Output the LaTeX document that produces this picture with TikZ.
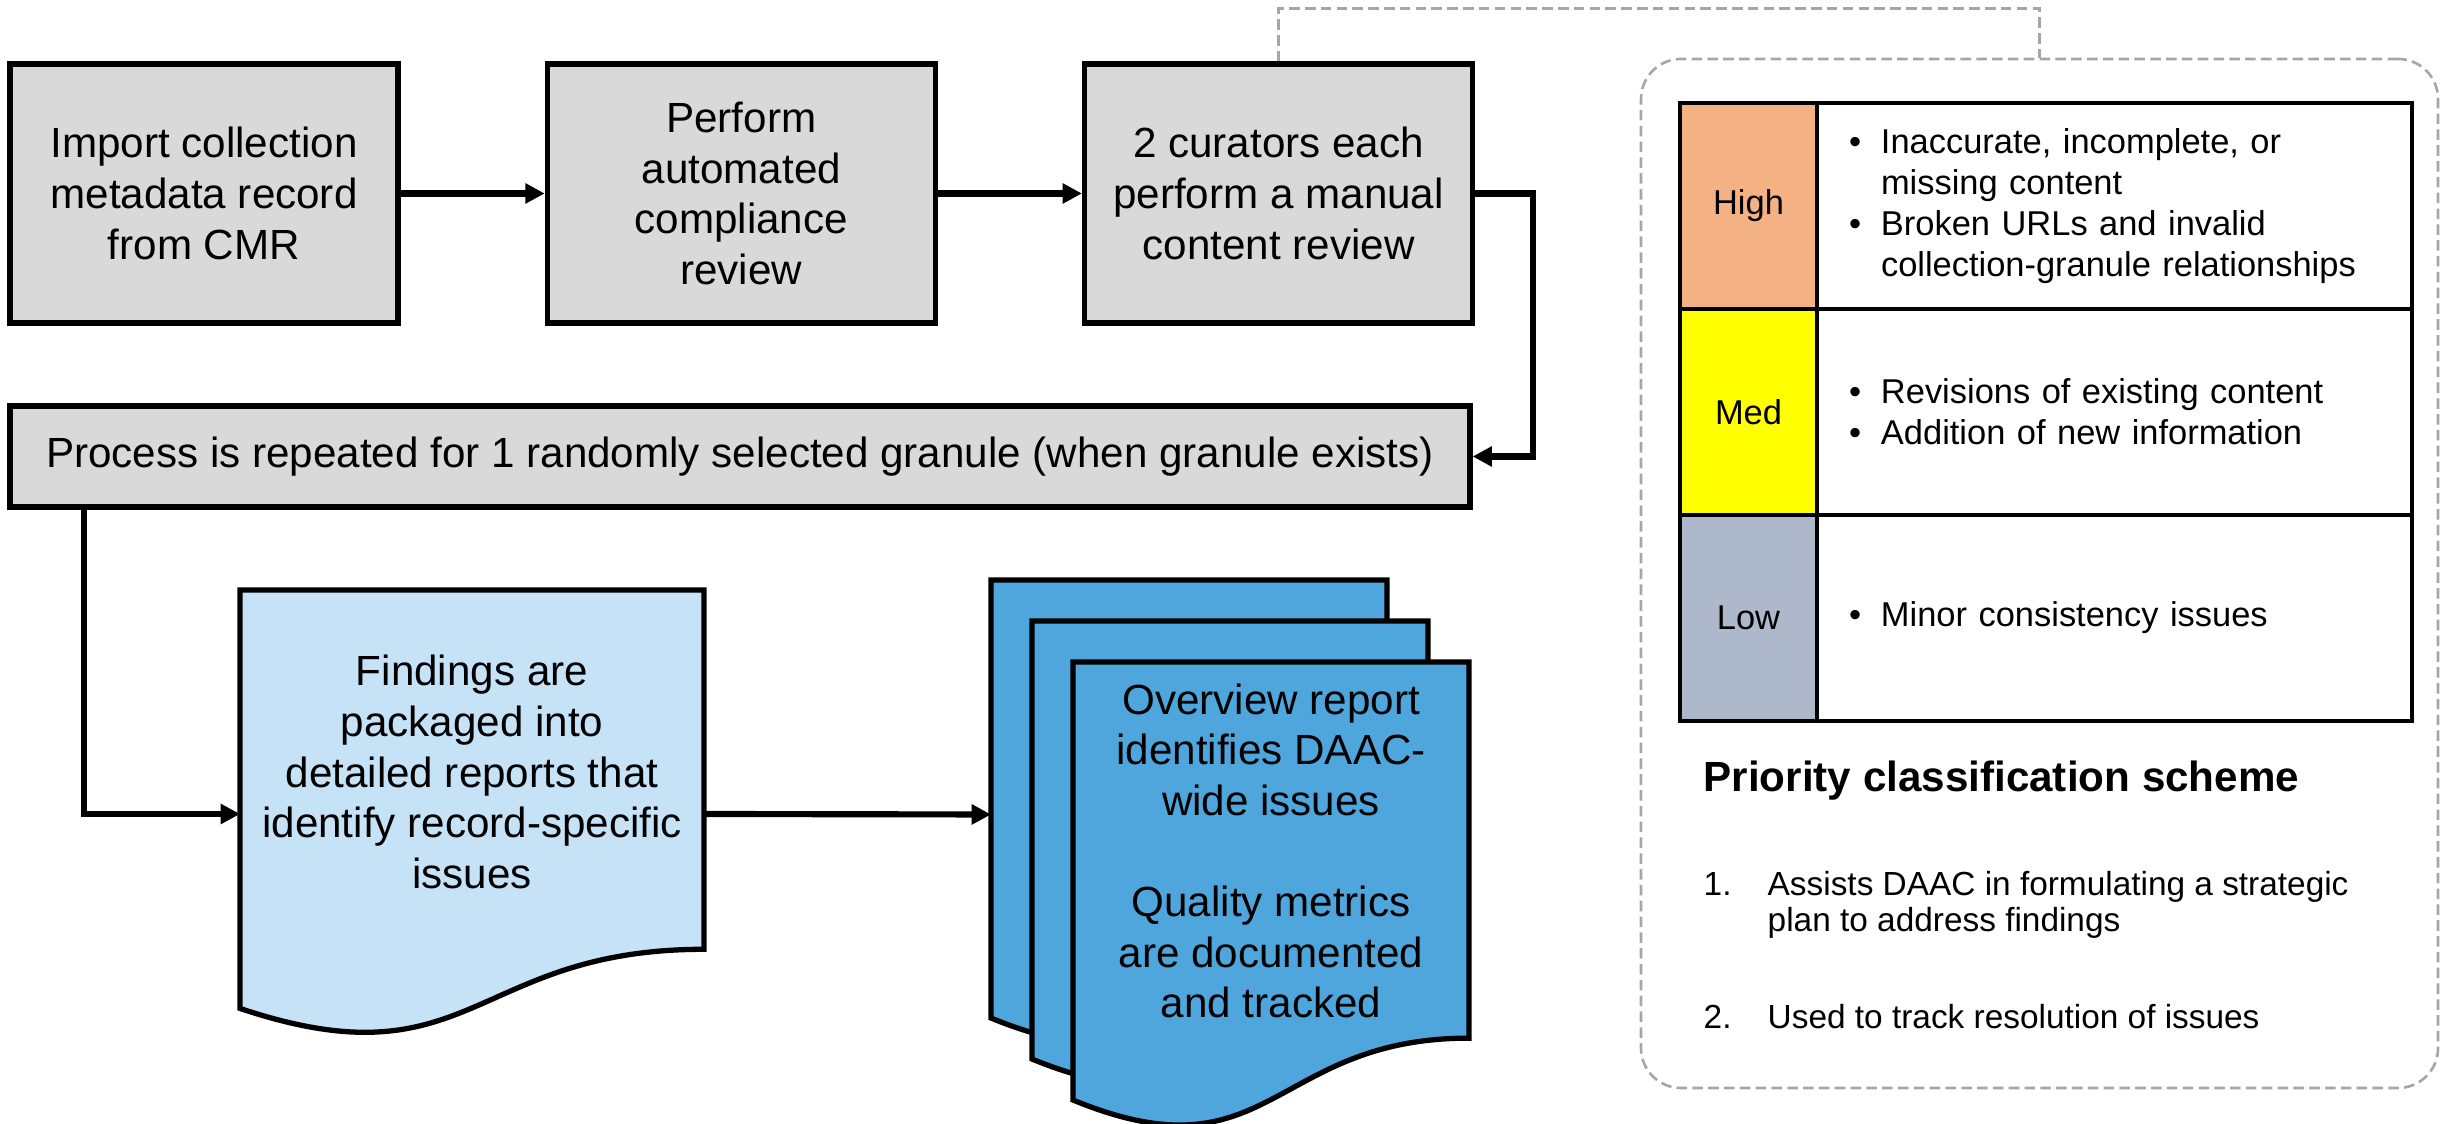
\documentclass[tikz,border=0pt]{standalone}
\usepackage{fontspec}
\setmainfont{Liberation Sans}
\usetikzlibrary{positioning,calc,arrows.meta,backgrounds}
\definecolor{stepgray}{HTML}{D9D9D9}
\definecolor{paleblue}{HTML}{C5E2F6}
\definecolor{midblue}{HTML}{4EA6DC}
\definecolor{prihigh}{HTML}{F4B183}
\definecolor{primed}{HTML}{FFFF00}
\definecolor{prilow}{HTML}{ADB9CA}
\definecolor{dashgray}{HTML}{A6A6A6}
\newcommand{\boxfont}{\fontsize{12}{14.4}\selectfont}
\newcommand{\cellfont}{\fontsize{9.8}{11.6}\selectfont}
\newcommand{\listfont}{\fontsize{9.5}{10.3}\selectfont}
\newcommand{\bul}{\makebox[0.32cm][l]{\textbullet}}
\newcommand{\cont}{\hspace*{0.32cm}}
% outline of a flowchart document, hung on a node
\newcommand{\docpath}[1]{(#1.north west) -- (#1.north east)
  -- ($(#1.north east)!0.802!(#1.south east)$)
  .. controls ($(#1.north)!0.802!(#1.south)$) and ($(#1.north)!1.1075!(#1.south)$)
  .. ($(#1.north west)!0.934!(#1.south west)$) -- cycle}

\begin{document}
\begin{tikzpicture}[
  stepbox/.style={draw, line width=1.5pt, fill=stepgray, font=\boxfont,
    align=center, minimum width=3.88cm, minimum height=2.59cm},
  docnode/.style={inner sep=0pt, outer sep=0pt},
  arr/.style={line width=1.75pt, -{Triangle[length=5.5pt,width=5.5pt]}},
  linkdash/.style={draw=dashgray, line width=0.75pt, dash pattern=on 3pt off 1.5pt},
  pricell/.style={draw, line width=1pt, outer sep=0pt, font=\cellfont,
    minimum width=1.37cm, minimum height=2.06cm},
  textcell/.style={draw, line width=1pt, outer sep=0pt, font=\cellfont,
    text width=5.31cm, inner xsep=0.32cm, minimum height=2.06cm, align=left}
]
  \useasboundingbox (0,0) rectangle (24.46,11.24);

  % --- review steps ---
  \node[stepbox] (import) at (2.04,9.305) {Import collection\\metadata record\\from CMR};
  \node[stepbox, right=1.44cm of import] (compliance) {Perform\\automated\\compliance\\review};
  \node[stepbox, right=1.44cm of compliance] (curate) {2 curators each\\perform a manual\\content review};
  \node[stepbox, minimum width=14.60cm, minimum height=1.01cm] (granule) at (7.40,6.675)
    {Process is repeated for 1 randomly selected granule (when granule exists)};

  % --- reports ---
  \node[docnode, minimum width=4.64cm, minimum height=4.48cm] (findings) at (4.72,3.10) {};
  \node[font=\boxfont, align=center] (findtext) at ([yshift=0.42cm]findings.center)
    {Findings are\\packaged into\\detailed reports that\\identify record-specific\\issues};
  \node[docnode, minimum width=3.96cm, minimum height=4.69cm] (rptback) at (11.89,3.095) {};
  \node[docnode, minimum width=3.96cm, minimum height=4.69cm] (rptmid) at ($(rptback)+(0.41,-0.41)$) {};
  \node[docnode, minimum width=3.96cm, minimum height=4.69cm] (overview) at ($(rptmid)+(0.41,-0.41)$) {};
  \node[font=\boxfont, align=center] (overtext) at ([yshift=0.455cm]overview.center)
    {Overview report\\identifies DAAC-\\wide issues\\[14.4pt]Quality metrics\\are documented\\and tracked};

  \begin{scope}[on background layer]
    \foreach \d/\c in {findings/paleblue, rptback/midblue, rptmid/midblue, overview/midblue}
      \filldraw[fill=\c, line width=1.5pt] \docpath{\d};
  \end{scope}

  % --- arrows ---
  \draw[arr] (import) -- (compliance);
  \draw[arr] (compliance) -- (curate);
  \draw[arr] (curate.east) -- ++(0.58,0) |- (granule.east);
  \draw[arr] ([xshift=0.77cm]granule.south west) |- (findings.west);
  \draw[arr] (findings.east) -- (rptback.west);

  % --- priority scheme ---
  \node[draw=dashgray, line width=0.75pt, dash pattern=on 3pt off 1.5pt, rounded corners=0.4cm,
    minimum width=7.97cm, minimum height=10.29cm] (scheme) at (20.395,5.505) {};
  \draw[linkdash] (curate.north) |- ([yshift=0.49cm]scheme.north) -- (scheme.north);

  \node[pricell, fill=prihigh] (high) at (17.485,9.18) {High};
  \node[textcell, right=0pt of high] (hightxt)
    {\bul Inaccurate, incomplete, or\\\cont missing content\\\bul Broken URLs and invalid\\\cont collection-granule relationships};
  \node[pricell, fill=primed, below=0pt of high] (med) {Med};
  \node[textcell, right=0pt of med] (medtxt)
    {\bul Revisions of existing content\\\bul Addition of new information};
  \node[pricell, fill=prilow, below=0pt of med] (low) {Low};
  \node[textcell, right=0pt of low] (lowtxt) {\bul Minor consistency issues};

  \node[font=\bfseries\boxfont, anchor=base west, inner sep=0pt] (schemetitle) at (17.03,3.32)
    {Priority classification scheme};
  \node[font=\listfont, anchor=north west, inner sep=0pt] (uses) at (17.03,2.55)
    {\begin{tabular}{@{}p{0.64cm}@{}l@{}}
      1. & Assists DAAC in formulating a strategic\\
         & plan to address findings\\[17.5pt]
      2. & Used to track resolution of issues
    \end{tabular}};
\end{tikzpicture}
\end{document}
